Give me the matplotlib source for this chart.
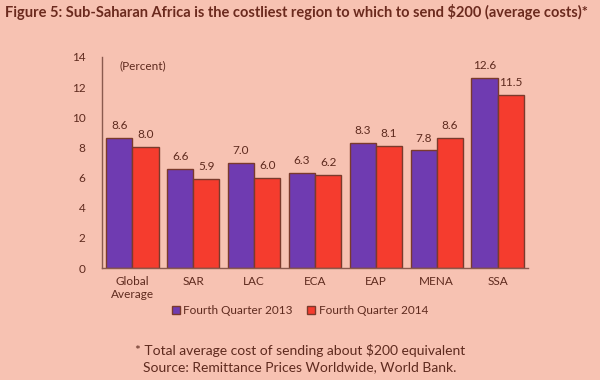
import matplotlib
matplotlib.use("Agg")
import matplotlib.pyplot as plt
import numpy as np

categories = ["Global\nAverage", "SAR", "LAC", "ECA", "EAP", "MENA", "SSA"]
q4_2013 = [8.6, 6.6, 7.0, 6.3, 8.3, 7.8, 12.6]
q4_2014 = [8.0, 5.9, 6.0, 6.2, 8.1, 8.6, 11.5]
series_names = ["Fourth Quarter 2013", "Fourth Quarter 2014"]
yticks = [0, 2, 4, 6, 8, 10, 12, 14]

bg = "#F7C2B2"
purple = "#6F3BB1"
red = "#F53C2E"
edge = "#7A3A2C"
txt = "#5E2A1E"

plt.rcParams['font.family'] = ['Lato', 'DejaVu Sans']

fig = plt.figure(figsize=(6, 3.8), dpi=100, facecolor=bg)
ax = fig.add_axes([0.17, 0.2947, 0.71, 0.5553])
ax.set_facecolor(bg)

x = np.arange(len(categories))
w = 0.43
b1 = ax.bar(x - w/2, q4_2013, w, color=purple, edgecolor=edge, linewidth=1.0, label=series_names[0])
b2 = ax.bar(x + w/2, q4_2014, w, color=red, edgecolor=edge, linewidth=1.0, label=series_names[1])
for bars, vals in ((b1, q4_2013), (b2, q4_2014)):
    for r, v in zip(bars, vals):
        ax.annotate(f"{v:.1f}", (r.get_x() + r.get_width()/2, v), xytext=(0, 5),
                    textcoords="offset points", ha="center", va="bottom",
                    fontsize=8.5, color=txt)

ax.set_xlim(-0.5, len(categories) - 0.5)
ax.set_ylim(0, 14)
ax.set_yticks(yticks)
ax.set_yticklabels([str(t) for t in yticks])
ax.set_xticks(x)
ax.set_xticklabels(categories)
ax.tick_params(axis='both', length=0, colors=txt, labelsize=8.5)
ax.tick_params(axis='y', pad=12)
ax.tick_params(axis='x', pad=6)
for s in ("top", "right"):
    ax.spines[s].set_visible(False)
for s in ("left", "bottom"):
    ax.spines[s].set_color("#8A5A4E")
    ax.spines[s].set_linewidth(1.0)

ax.text(0.04, 0.985, "(Percent)", transform=ax.transAxes, fontsize=8.5, color=txt, va="top")

fig.text(0.008, 0.968, "Figure 5: Sub-Saharan Africa is the costliest region to which to send $200 (average costs)*",
         fontsize=10.5, fontweight="bold", color="#6B2A1E", va="center", ha="left")

leg = fig.legend(handles=[b1, b2], labels=series_names, loc="center", bbox_to_anchor=(0.5, 0.182),
                 ncol=2, frameon=False, fontsize=8.5, handlelength=0.7, handleheight=0.7,
                 handletextpad=0.3, columnspacing=1.2)
for t in leg.get_texts():
    t.set_color(txt)

fig.text(0.5, 0.077, "* Total average cost of sending about $200 equivalent", ha="center", va="center",
         fontsize=10, color=txt)
fig.text(0.5, 0.034, "Source: Remittance Prices Worldwide, World Bank.", ha="center", va="center",
         fontsize=10, color=txt)

fig.savefig("out.png", dpi=100, facecolor=bg)
